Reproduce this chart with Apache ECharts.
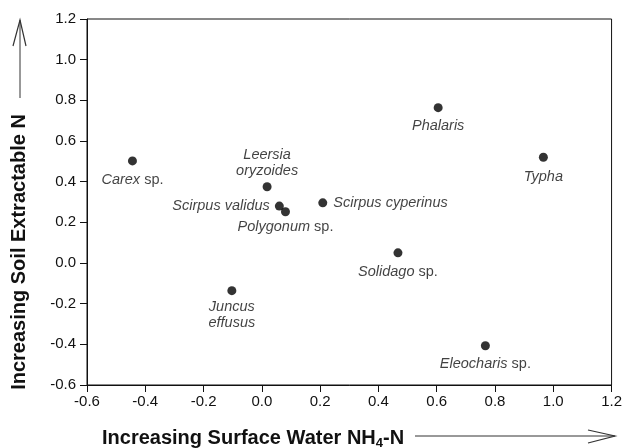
<!DOCTYPE html>
<html>
<head>
<meta charset="utf-8">
<script src="https://cdn.jsdelivr.net/npm/echarts@6/dist/echarts.min.js"></script>
<style>
  html, body { margin: 0; padding: 0; background: #fff; }
  #chart { width: 625px; height: 448px; }
</style>
</head>
<body>
<div id="chart"></div>
<script>
// species and their positions (surface water NH4-N, soil extractable N)
const species = ['Carex sp.', 'Leersia oryzoides', 'Scirpus validus', 'Polygonum sp.', 'Scirpus cyperinus',
  'Juncus effusus', 'Phalaris', 'Typha', 'Solidago sp.', 'Eleocharis sp.']
const xValues = [-0.444, 0.018, 0.060, 0.081, 0.209, -0.103, 0.605, 0.966, 0.467, 0.767]
const yValues = [0.502, 0.375, 0.280, 0.252, 0.296, -0.136, 0.764, 0.520, 0.050, -0.407]

// how each label sits around its dot
const labelPlace = {
  'Carex sp.': ['bottom', 7],
  'Leersia oryzoides': ['top', 3],
  'Scirpus validus': ['left', 5],
  'Polygonum sp.': ['bottom', 3],
  'Scirpus cyperinus': ['right', 6],
  'Juncus effusus': ['bottom', 4],
  'Phalaris': ['bottom', 6],
  'Typha': ['bottom', 7],
  'Solidago sp.': ['bottom', 7],
  'Eleocharis sp.': ['bottom', 6]
}

// genus italic, "sp." upright, two-word names stacked for a couple
const labelText = name => {
  if (name.endsWith(' sp.')) return '{i|' + name.slice(0, -4) + '} sp.'
  if (name === 'Leersia oryzoides' || name === 'Juncus effusus') {
    return name.split(' ').map(w => '{i|' + w + '}').join('\n')
  }
  return '{i|' + name + '}'
}

const font = 'Liberation Sans, Arial, sans-serif'
const ink = '#111'

const points = species.map((name, i) => ({
  name: name,
  value: [xValues[i], yValues[i]],
  label: {
    show: true,
    position: labelPlace[name][0],
    distance: labelPlace[name][1],
    formatter: labelText(name),
    color: ink,
    fontFamily: font,
    fontSize: 14.5,
    lineHeight: 16,
    align: 'center',
    rich: {
      i: { fontStyle: 'italic', fontFamily: font, fontSize: 14.5, lineHeight: 16, color: ink }
    }
  }
}))
// side labels need their own alignment
points.forEach(p => {
  if (p.label.position === 'left') p.label.align = 'right'
  if (p.label.position === 'right') p.label.align = 'left'
})

const axisLine = { show: true, onZero: false, lineStyle: { color: ink, width: 1 } }
const axisTick = { show: true, inside: false, length: 7, lineStyle: { color: ink } }

const chart = echarts.init(document.getElementById('chart'))
chart.setOption({
  animation: false,
  grid: { left: 87, right: 12, top: 19, bottom: 63, show: true, borderColor: ink, borderWidth: 1 },
  xAxis: {
    type: 'value', min: -0.6, max: 1.2, interval: 0.2,
    axisLine: axisLine, axisTick: axisTick, splitLine: { show: false },
    axisLabel: { color: ink, fontFamily: font, fontSize: 15, margin: 9, formatter: v => v.toFixed(1) }
  },
  yAxis: {
    type: 'value', min: -0.6, max: 1.2, interval: 0.2,
    axisLine: axisLine, axisTick: axisTick, splitLine: { show: false },
    axisLabel: { color: ink, fontFamily: font, fontSize: 15, margin: 11, formatter: v => v.toFixed(1) }
  },
  series: [{
    type: 'scatter',
    symbol: 'circle',
    symbolSize: 9,
    itemStyle: { color: '#000' },
    data: points
  }],
  graphic: [
    // axis titles
    {
      type: 'text', x: 102, y: 438,
      style: {
        text: '{b|Increasing Surface Water NH}{s|4}{b|-N}',
        verticalAlign: 'middle',
        rich: {
          b: { fontFamily: font, fontWeight: 'bold', fontSize: 20, fill: ink },
          s: { fontFamily: font, fontWeight: 'bold', fontSize: 13, fill: ink, padding: [10, 0, 0, 0] }
        }
      }
    },
    {
      type: 'text', x: 19, y: 252, rotation: Math.PI / 2,
      style: {
        text: 'Increasing Soil Extractable N',
        fontFamily: font, fontWeight: 'bold', fontSize: 20, fill: ink,
        align: 'center', verticalAlign: 'middle'
      }
    },
    // arrows next to the titles
    { type: 'line', shape: { x1: 415, y1: 436, x2: 615, y2: 436 }, style: { stroke: '#333', lineWidth: 1 } },
    { type: 'polyline', shape: { points: [[588, 430], [615, 436], [588, 443]] }, style: { stroke: '#333', lineWidth: 1.2, fill: null } },
    { type: 'line', shape: { x1: 20, y1: 20, x2: 20, y2: 98 }, style: { stroke: '#333', lineWidth: 1 } },
    { type: 'polyline', shape: { points: [[13, 46], [20, 20], [26, 46]] }, style: { stroke: '#333', lineWidth: 1.2, fill: null } }
  ]
})
</script>
</body>
</html>
